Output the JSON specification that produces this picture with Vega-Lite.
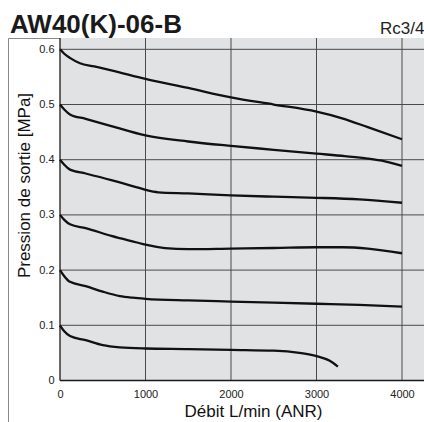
{
  "$schema": "https://vega.github.io/schema/vega-lite/v6.json",
  "width": 416,
  "height": 384,
  "autosize": {"type": "none"},
  "padding": {"left": 8, "top": 38, "right": 0, "bottom": 0},
  "background": "white",
  "title": {
    "text": "AW40(K)-06-B",
    "anchor": "start",
    "frame": "group",
    "fontSize": 26,
    "fontWeight": "bold",
    "font": "Liberation Sans",
    "color": "#1a1a1a",
    "baseline": "alphabetic",
    "offset": -40,
    "dx": 2
  },
  "resolve": {"axis": {"x": "independent", "y": "independent"}},
  "datasets": {
    "curves": [
      {"set": "0.6", "flow": 0, "p": 0.600},
      {"set": "0.6", "flow": 50, "p": 0.592},
      {"set": "0.6", "flow": 120, "p": 0.584},
      {"set": "0.6", "flow": 234, "p": 0.5747},
      {"set": "0.6", "flow": 400, "p": 0.569},
      {"set": "0.6", "flow": 600, "p": 0.562},
      {"set": "0.6", "flow": 1000, "p": 0.5465},
      {"set": "0.6", "flow": 1500, "p": 0.530},
      {"set": "0.6", "flow": 2000, "p": 0.513},
      {"set": "0.6", "flow": 2500, "p": 0.500},
      {"set": "0.6", "flow": 3000, "p": 0.487},
      {"set": "0.6", "flow": 3300, "p": 0.475},
      {"set": "0.6", "flow": 3600, "p": 0.459},
      {"set": "0.6", "flow": 4000, "p": 0.437},
      {"set": "0.5", "flow": 0, "p": 0.500},
      {"set": "0.5", "flow": 50, "p": 0.491},
      {"set": "0.5", "flow": 117, "p": 0.482},
      {"set": "0.5", "flow": 300, "p": 0.474},
      {"set": "0.5", "flow": 600, "p": 0.461},
      {"set": "0.5", "flow": 1000, "p": 0.444},
      {"set": "0.5", "flow": 1500, "p": 0.433},
      {"set": "0.5", "flow": 2000, "p": 0.425},
      {"set": "0.5", "flow": 2500, "p": 0.418},
      {"set": "0.5", "flow": 3000, "p": 0.411},
      {"set": "0.5", "flow": 3330, "p": 0.4065},
      {"set": "0.5", "flow": 3600, "p": 0.402},
      {"set": "0.5", "flow": 3800, "p": 0.397},
      {"set": "0.5", "flow": 4000, "p": 0.389},
      {"set": "0.4", "flow": 0, "p": 0.400},
      {"set": "0.4", "flow": 50, "p": 0.391},
      {"set": "0.4", "flow": 117, "p": 0.382},
      {"set": "0.4", "flow": 300, "p": 0.375},
      {"set": "0.4", "flow": 600, "p": 0.363},
      {"set": "0.4", "flow": 900, "p": 0.350},
      {"set": "0.4", "flow": 1000, "p": 0.3455},
      {"set": "0.4", "flow": 1150, "p": 0.341},
      {"set": "0.4", "flow": 1500, "p": 0.339},
      {"set": "0.4", "flow": 2000, "p": 0.3354},
      {"set": "0.4", "flow": 2500, "p": 0.333},
      {"set": "0.4", "flow": 3000, "p": 0.331},
      {"set": "0.4", "flow": 3500, "p": 0.328},
      {"set": "0.4", "flow": 4000, "p": 0.322},
      {"set": "0.3", "flow": 0, "p": 0.300},
      {"set": "0.3", "flow": 50, "p": 0.291},
      {"set": "0.3", "flow": 117, "p": 0.283},
      {"set": "0.3", "flow": 300, "p": 0.276},
      {"set": "0.3", "flow": 600, "p": 0.262},
      {"set": "0.3", "flow": 900, "p": 0.250},
      {"set": "0.3", "flow": 1000, "p": 0.246},
      {"set": "0.3", "flow": 1228, "p": 0.240},
      {"set": "0.3", "flow": 1500, "p": 0.238},
      {"set": "0.3", "flow": 2000, "p": 0.239},
      {"set": "0.3", "flow": 2500, "p": 0.240},
      {"set": "0.3", "flow": 3000, "p": 0.2414},
      {"set": "0.3", "flow": 3300, "p": 0.2414},
      {"set": "0.3", "flow": 3600, "p": 0.239},
      {"set": "0.3", "flow": 4000, "p": 0.2305},
      {"set": "0.2", "flow": 0, "p": 0.200},
      {"set": "0.2", "flow": 50, "p": 0.189},
      {"set": "0.2", "flow": 117, "p": 0.1787},
      {"set": "0.2", "flow": 300, "p": 0.171},
      {"set": "0.2", "flow": 500, "p": 0.161},
      {"set": "0.2", "flow": 700, "p": 0.153},
      {"set": "0.2", "flow": 850, "p": 0.150},
      {"set": "0.2", "flow": 1000, "p": 0.148},
      {"set": "0.2", "flow": 1500, "p": 0.145},
      {"set": "0.2", "flow": 2000, "p": 0.143},
      {"set": "0.2", "flow": 2500, "p": 0.141},
      {"set": "0.2", "flow": 3000, "p": 0.139},
      {"set": "0.2", "flow": 3500, "p": 0.137},
      {"set": "0.2", "flow": 4000, "p": 0.134},
      {"set": "0.1", "flow": 0, "p": 0.100},
      {"set": "0.1", "flow": 50, "p": 0.089},
      {"set": "0.1", "flow": 117, "p": 0.0805},
      {"set": "0.1", "flow": 300, "p": 0.073},
      {"set": "0.1", "flow": 500, "p": 0.064},
      {"set": "0.1", "flow": 700, "p": 0.060},
      {"set": "0.1", "flow": 1000, "p": 0.058},
      {"set": "0.1", "flow": 1500, "p": 0.057},
      {"set": "0.1", "flow": 2000, "p": 0.0555},
      {"set": "0.1", "flow": 2500, "p": 0.054},
      {"set": "0.1", "flow": 2800, "p": 0.050},
      {"set": "0.1", "flow": 3000, "p": 0.0443},
      {"set": "0.1", "flow": 3150, "p": 0.036},
      {"set": "0.1", "flow": 3250, "p": 0.025}
    ],
    "ygrid": [{"v": 0.1}, {"v": 0.2}, {"v": 0.3}, {"v": 0.4}, {"v": 0.5}, {"v": 0.6}],
    "xgrid": [{"v": 1000}, {"v": 2000}, {"v": 3000}, {"v": 4000}]
  },
  "layer": [
    {
      "data": {"values": [{}]},
      "mark": {"type": "rect", "fill": "#e1e2e3", "stroke": null},
      "encoding": {
        "x": {"datum": 0, "type": "quantitative", "scale": {"domain": [-608.2, 4257.3], "nice": false, "zero": false}, "axis": null},
        "x2": {"datum": 4600},
        "y": {"datum": 0, "type": "quantitative", "scale": {"domain": [-0.0752, 0.6205], "nice": false, "zero": false}, "axis": null},
        "y2": {"datum": 0.6205}
      }
    },
    {
      "data": {"name": "ygrid"},
      "mark": {"type": "rule", "color": "#4a4a4a", "strokeWidth": 1},
      "encoding": {
        "y": {"field": "v", "type": "quantitative", "scale": {"domain": [-0.0752, 0.6205], "nice": false, "zero": false}, "axis": null},
        "x": {"datum": 0, "type": "quantitative", "scale": {"domain": [-608.2, 4257.3], "nice": false, "zero": false}, "axis": null},
        "x2": {"datum": 4600}
      }
    },
    {
      "data": {"name": "xgrid"},
      "mark": {"type": "rule", "color": "#4a4a4a", "strokeWidth": 1},
      "encoding": {
        "x": {
          "field": "v", "type": "quantitative",
          "scale": {"domain": [-608.2, 4257.3], "nice": false, "zero": false},
          "axis": {
            "orient": "top", "offset": 0, "domain": false, "ticks": false, "labels": false, "grid": false,
            "title": "Rc3/4", "titleFontSize": 17, "titleFontWeight": "normal",
            "titleColor": "#222", "titleX": 416, "titleY": -5, "titleAlign": "right", "titleBaseline": "alphabetic"
          }
        },
        "y": {"datum": 0, "type": "quantitative", "scale": {"domain": [-0.0752, 0.6205], "nice": false, "zero": false}, "axis": null},
        "y2": {"datum": 0.6205}
      }
    },
    {
      "data": {"values": [{}]},
      "mark": {"type": "rule", "color": "#1a1a1a", "strokeWidth": 1.3},
      "encoding": {
        "x": {"datum": 0, "type": "quantitative", "scale": {"domain": [-608.2, 4257.3], "nice": false, "zero": false}, "axis": null},
        "y": {"datum": 0, "type": "quantitative", "scale": {"domain": [-0.0752, 0.6205], "nice": false, "zero": false}, "axis": null},
        "y2": {"datum": 0.6205}
      }
    },
    {
      "data": {"values": [{}]},
      "mark": {"type": "rule", "color": "#1a1a1a", "strokeWidth": 1.3},
      "encoding": {
        "y": {"datum": 0, "type": "quantitative", "scale": {"domain": [-0.0752, 0.6205], "nice": false, "zero": false}, "axis": null},
        "x": {"datum": 0, "type": "quantitative", "scale": {"domain": [-608.2, 4257.3], "nice": false, "zero": false}, "axis": null},
        "x2": {"datum": 4600}
      }
    },
    {
      "data": {"name": "curves"},
      "mark": {"type": "line", "color": "#111111", "strokeWidth": 2.3, "interpolate": "monotone"},
      "encoding": {
        "detail": {"field": "set", "type": "nominal"},
        "x": {
          "field": "flow", "type": "quantitative",
          "scale": {"domain": [-608.2, 4257.3], "nice": false, "zero": false},
          "axis": {
            "orient": "bottom", "offset": -41.5, "values": [0, 1000, 2000, 3000, 4000], "format": "d",
            "domain": false, "ticks": false, "grid": false, "labelFlush": false, "labelPadding": 8,
            "labelFontSize": 11, "labelColor": "#222",
            "title": "Débit L/min (ANR)", "titleFontSize": 17, "titleFontWeight": "normal",
            "titleColor": "#111", "titleX": 245, "titleY": 35.5, "titleBaseline": "alphabetic", "titleAlign": "center"
          }
        },
        "y": {
          "field": "p", "type": "quantitative",
          "scale": {"domain": [-0.0752, 0.6205], "nice": false, "zero": false},
          "axis": {
            "orient": "left", "offset": -52, "zindex": 1, "values": [0, 0.1, 0.2, 0.3, 0.4, 0.5, 0.6], "format": "~g",
            "domain": false, "ticks": false, "grid": false, "labelFlush": false, "labelPadding": 6,
            "labelFontSize": 11, "labelColor": "#222",
            "title": "Pression de sortie [MPa]", "titleFontSize": 17, "titleFontWeight": "normal",
            "titleColor": "#111", "titleX": -36, "titleY": 147, "titleAngle": -90, "titleBaseline": "middle", "titleAlign": "center"
          }
        }
      }
    }
  ],
  "config": {
    "view": {"stroke": "#8a8a8a", "strokeWidth": 1},
    "font": "Liberation Sans"
  }
}
